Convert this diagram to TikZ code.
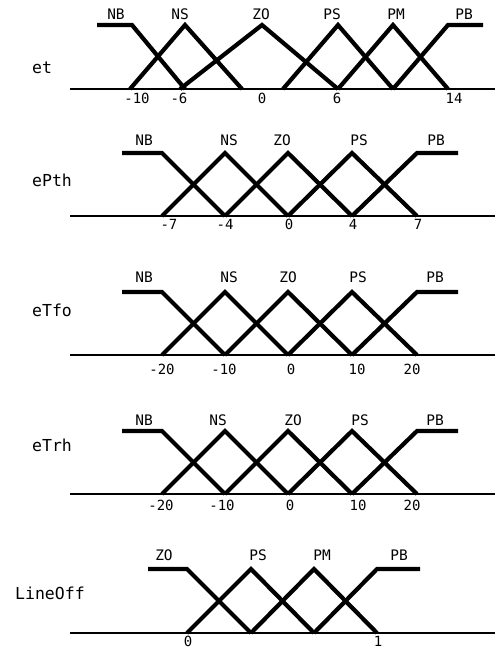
\documentclass[tikz,border=0pt]{standalone}
\usepackage{fontspec}
\setmonofont{DejaVu Sans Mono}
\begin{document}
\begin{tikzpicture}[x=1pt,y=-1pt,
  mf/.style={line width=4.2pt, line join=miter},
  axisline/.style={line width=1.6pt},
  lbl/.style={font=\ttfamily\fontsize{14.5}{16}\selectfont, inner sep=0pt},
  tick/.style={font=\ttfamily\fontsize{14}{16}\selectfont, inner sep=0pt},
  side/.style={font=\ttfamily\fontsize{16.5}{18}\selectfont, inner sep=0pt, anchor=west}]
\useasboundingbox (0,0) rectangle (504,649);

% ---------------- et ----------------
\node[side] (l1) at (32,68) {et};
\draw[axisline] (70,89) -- (495,89);
\draw[mf] (97,25) -- (132,25) -- (185,89);
\draw[mf] (130,89) -- (185,25) -- (242,89);
\draw[mf] (180,89) -- (262,25) -- (338,89);
\draw[mf] (283,89) -- (338,25) -- (393,89);
\draw[mf] (338,89) -- (393,25) -- (448,89);
\draw[mf] (393,89) -- (448,25) -- (483,25);
\node[lbl] (a1) at (116,14) {NB};
\node[lbl] (a2) at (180,14) {NS};
\node[lbl] (a3) at (261,14) {ZO};
\node[lbl] (a4) at (332,14) {PS};
\node[lbl] (a5) at (396,14) {PM};
\node[lbl] (a6) at (464,14) {PB};
\node[tick] (t11) at (137,98) {-10};
\node[tick] (t12) at (179,98) {-6};
\node[tick] (t13) at (262,98) {0};
\node[tick] (t14) at (337,98) {6};
\node[tick] (t15) at (454,98) {14};

% ---------------- ePth ----------------
\node[side] (l2) at (32,180) {ePth};
\draw[axisline] (70,216) -- (495,216);
\draw[mf] (122,153) -- (162,153) -- (225,216);
\draw[mf] (162,216) -- (225,153) -- (288,216);
\draw[mf] (225,216) -- (288,153) -- (352,216);
\draw[mf] (288,216) -- (352,153) -- (417,216);
\draw[mf] (352,216) -- (417,153) -- (458,153);
\node[lbl] (b1) at (144,140) {NB};
\node[lbl] (b2) at (229,140) {NS};
\node[lbl] (b3) at (282,140) {ZO};
\node[lbl] (b4) at (359,140) {PS};
\node[lbl] (b5) at (436,140) {PB};
\node[tick] (t21) at (169,224) {-7};
\node[tick] (t22) at (225,224) {-4};
\node[tick] (t23) at (289,224) {0};
\node[tick] (t24) at (353,224) {4};
\node[tick] (t25) at (418,224) {7};

% ---------------- eTfo ----------------
\node[side] (l3) at (32,310) {eTfo};
\draw[axisline] (70,355) -- (495,355);
\draw[mf] (122,292) -- (162,292) -- (225,355);
\draw[mf] (162,355) -- (225,292) -- (288,355);
\draw[mf] (225,355) -- (288,292) -- (352,355);
\draw[mf] (288,355) -- (352,292) -- (417,355);
\draw[mf] (352,355) -- (417,292) -- (458,292);
\node[lbl] (c1) at (144,277) {NB};
\node[lbl] (c2) at (229,277) {NS};
\node[lbl] (c3) at (288,277) {ZO};
\node[lbl] (c4) at (358,277) {PS};
\node[lbl] (c5) at (435,277) {PB};
\node[tick] (t31) at (162,369) {-20};
\node[tick] (t32) at (224,369) {-10};
\node[tick] (t33) at (291,369) {0};
\node[tick] (t34) at (357,369) {10};
\node[tick] (t35) at (412,369) {20};

% ---------------- eTrh ----------------
\node[side] (l4) at (32,445) {eTrh};
\draw[axisline] (70,494) -- (495,494);
\draw[mf] (122,431) -- (162,431) -- (225,494);
\draw[mf] (162,494) -- (225,431) -- (288,494);
\draw[mf] (225,494) -- (288,431) -- (352,494);
\draw[mf] (288,494) -- (352,431) -- (417,494);
\draw[mf] (352,494) -- (417,431) -- (458,431);
\node[lbl] (d1) at (144,420) {NB};
\node[lbl] (d2) at (218,420) {NS};
\node[lbl] (d3) at (293,420) {ZO};
\node[lbl] (d4) at (360,420) {PS};
\node[lbl] (d5) at (435,420) {PB};
\node[tick] (t41) at (161,505) {-20};
\node[tick] (t42) at (222,505) {-10};
\node[tick] (t43) at (290,505) {0};
\node[tick] (t44) at (358,505) {10};
\node[tick] (t45) at (412,505) {20};

% ---------------- LineOff ----------------
\node[side] (l5) at (15,593) {LineOff};
\draw[axisline] (70,633) -- (495,633);
\draw[mf] (148,569) -- (187,569) -- (251,633);
\draw[mf] (187,633) -- (251,569) -- (314,633);
\draw[mf] (251,633) -- (314,569) -- (377,633);
\draw[mf] (314,633) -- (377,569) -- (420,569);
\node[lbl] (e1) at (164,555) {ZO};
\node[lbl] (e2) at (258,555) {PS};
\node[lbl] (e3) at (322,555) {PM};
\node[lbl] (e4) at (399,555) {PB};
\node[tick] (t51) at (188,641.5) {0};
\node[tick] (t52) at (378,641.5) {1};
\end{tikzpicture}
\end{document}
